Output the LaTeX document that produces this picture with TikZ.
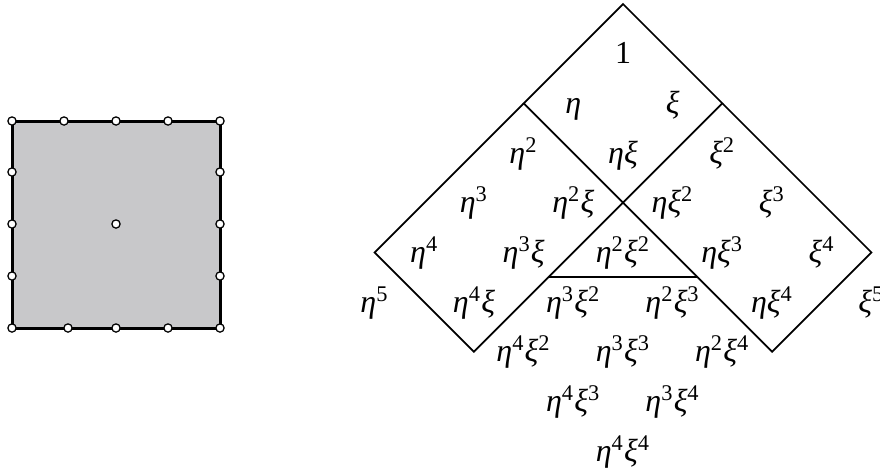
\documentclass[tikz,border=0pt]{standalone}
\usepackage{fontspec}
\setmainfont{Liberation Serif}
\usetikzlibrary{positioning}
\definecolor{panelgray}{RGB}{200,200,202}
\newcommand\ceta{\textit{η}}
\newcommand\cxi{\textit{ξ}}
\newcommand\pw[2]{\ifcase#2\or#1\else#1\textsuperscript{#2}\fi}

\begin{document}
\begin{tikzpicture}[x=0.4pt,y=-0.4pt,
  every node/.style={font=\fontsize{12.8}{15}\selectfont},
  knot/.style={circle,draw,fill=white,inner sep=0pt,minimum size=3.3pt,line width=0.5pt},
  cell/.style={anchor=base,yshift=-4pt,inner sep=0pt},
  grid line/.style={line width=0.7pt}]
  \useasboundingbox (0,0) rectangle (880,475);
  % element with its nodes
  \coordinate (nw) at (12,121);
  \coordinate (se) at (220,328);
  \draw[fill=panelgray,line width=1.2pt] (nw) rectangle (se);
  \foreach \x/\y [count=\k] in {12/121,64/121,116/121,168/121,220/121,
      220/172,220/224,220/276,220/328,168/328,116/328,68/328,12/328,
      12/276,12/224,12/172,116/224}
    \node[knot] (k\k) at (\x,\y) {};
  % monomials
  \begin{scope}[shift={(623,4)},x={(19.87pt,-19.87pt)},y={(-19.87pt,-19.87pt)}]
    \coordinate (apex) at (0,0);
    \coordinate (ul) at (0,2);
    \coordinate (ur) at (2,0);
    \coordinate (mid) at (2,2);
    \coordinate (lw) at (0,5);
    \coordinate (lb) at (2,5);
    \coordinate (re) at (5,0);
    \coordinate (rb) at (5,2);
    \coordinate (tl) at (2,3.5);
    \coordinate (tr) at (3.5,2);
    \draw[grid line] (apex) -- (ur) -- (mid) -- (ul) -- cycle;
    \draw[grid line] (ul) -- (lw) -- (lb) -- (mid);
    \draw[grid line] (ur) -- (re) -- (rb) -- (mid);
    \draw[grid line] (tl) -- (tr);
    \foreach \i in {0,...,4}
      \foreach \j in {0,...,4}
        \node[cell] (m\i\j) at (\j+0.5,\i+0.5)
          {\ifnum\numexpr\i+\j\relax=0 1\else\pw{\ceta}{\i}\pw{\cxi}{\j}\fi};
    \node[cell] (m50) at (0.5,5.5) {\pw{\ceta}{5}};
    \node[cell] (m05) at (5.5,0.5) {\pw{\cxi}{5}};
  \end{scope}
\end{tikzpicture}
\end{document}
